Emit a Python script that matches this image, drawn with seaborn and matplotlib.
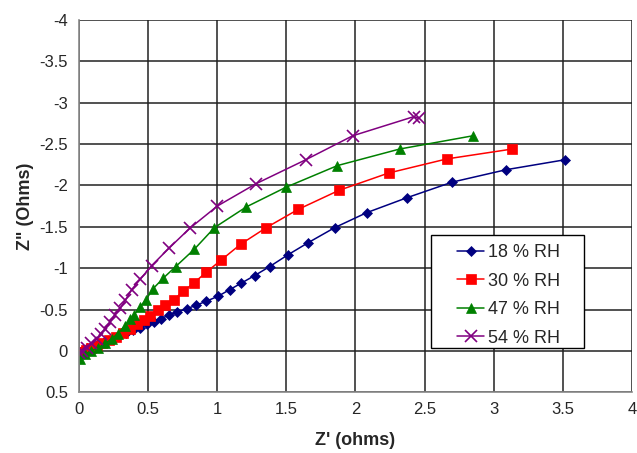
import matplotlib
matplotlib.use("Agg")
from matplotlib import pyplot as plt
from matplotlib.patches import Rectangle
from matplotlib.ticker import FuncFormatter, MultipleLocator
import seaborn as sns

# Z' (x) and Z'' (y), one pair of lists per humidity
zr_18 = [0.01, 0.03, 0.06, 0.10, 0.14, 0.19, 0.24, 0.29, 0.34, 0.39, 0.44, 0.49,
         0.54, 0.59, 0.65, 0.71, 0.78, 0.845, 0.92, 1.005, 1.09, 1.175, 1.27,
         1.38, 1.51, 1.66, 1.85, 2.08, 2.37, 2.70, 3.09, 3.515]
zi_18 = [0.01, -0.01, -0.03, -0.05, -0.08, -0.12, -0.15, -0.18, -0.22, -0.25, -0.28, -0.32,
         -0.35, -0.39, -0.43, -0.47, -0.51, -0.55, -0.60, -0.66, -0.74, -0.82, -0.91,
         -1.02, -1.16, -1.31, -1.49, -1.67, -1.85, -2.04, -2.19, -2.31]

zr_30 = [0.01, 0.02, 0.05, 0.09, 0.13, 0.17, 0.22, 0.27, 0.32, 0.37, 0.42, 0.47,
         0.515, 0.57, 0.62, 0.685, 0.755, 0.83, 0.92, 1.03, 1.17, 1.355, 1.585,
         1.88, 2.24, 2.66, 3.135]
zi_30 = [0.03, 0.01, -0.01, -0.03, -0.06, -0.09, -0.13, -0.17, -0.22, -0.27, -0.32, -0.37,
         -0.42, -0.49, -0.56, -0.62, -0.72, -0.82, -0.95, -1.10, -1.29, -1.49, -1.71,
         -1.94, -2.15, -2.32, -2.44]

zr_47 = [0.01, 0.04, 0.09, 0.14, 0.19, 0.24, 0.28, 0.33, 0.37, 0.40, 0.44, 0.485,
         0.535, 0.61, 0.70, 0.835, 0.98, 1.21, 1.50, 1.87, 2.32, 2.85]
zi_47 = [0.10, 0.04, 0.0, -0.04, -0.09, -0.15, -0.21, -0.30, -0.38, -0.44, -0.53, -0.62,
         -0.75, -0.88, -1.02, -1.23, -1.49, -1.74, -1.98, -2.24, -2.44, -2.60]

zr_54 = [0.00, 0.02, 0.055, 0.09, 0.13, 0.16, 0.19, 0.225, 0.26, 0.30, 0.335, 0.38,
         0.445, 0.525, 0.65, 0.80, 1.00, 1.28, 1.64, 1.98, 2.42, 2.46]
zi_54 = [0.02, 0.0, -0.04, -0.09, -0.15, -0.21, -0.27, -0.35, -0.44, -0.52, -0.61, -0.74,
         -0.87, -1.03, -1.24, -1.48, -1.75, -2.02, -2.31, -2.60, -2.83, -2.81]

labels = ["18 % RH", "30 % RH", "47 % RH", "54 % RH"]

sns.set_style("white")
plt.rcParams['font.family'] = ['Liberation Sans', 'DejaVu Sans']
plt.rcParams['axes.unicode_minus'] = False

fig = plt.figure(figsize=(6.37, 4.53), dpi=100)
ax = fig.add_axes([0.124, 0.134, 0.868, 0.822])

series = [
    (zr_18, zi_18, "#000080", "D", 5.5),
    (zr_30, zi_30, "#ff0000", "s", 6.5),
    (zr_47, zi_47, "#008000", "^", 7),
    (zr_54, zi_54, "#800080", "x", 8),
]
for (xs, ys, col, mk, ms), lab in zip(series, labels):
    sns.lineplot(x=xs, y=ys, sort=False, estimator=None, color=col, marker=mk,
                 markersize=ms, markeredgecolor=col, markeredgewidth=1.2 if mk == "x" else 0.5,
                 linewidth=1.1, label=lab, ax=ax)

ax.set_xlim(0, 4)
ax.set_ylim(0.5, -4)
ax.xaxis.set_major_locator(MultipleLocator(0.5))
ax.yaxis.set_major_locator(MultipleLocator(0.5))
fmt = FuncFormatter(lambda v, p: "%g" % v if abs(v) > 1e-9 else "0")
ax.xaxis.set_major_formatter(fmt)
ax.yaxis.set_major_formatter(fmt)
ax.grid(True, color="#222222", linewidth=1.1)
ax.set_axisbelow(True)

for side in ["top", "right"]:
    ax.spines[side].set_visible(False)
for side in ["left", "bottom"]:
    ax.spines[side].set_color("#888888")
    ax.spines[side].set_linewidth(1.2)

ax.tick_params(axis="y", direction="out", length=5, width=1, color="#888888",
               labelsize=12, pad=3)
ax.tick_params(axis="x", length=0, labelsize=12, pad=7)

ax.set_xlabel("Z' (ohms)", fontsize=13, fontweight="bold", labelpad=11)
ax.set_ylabel('Z" (Ohms)', fontsize=13, fontweight="bold", labelpad=4)

# Excel-style legend box: wide side padding, so draw the frame separately
box = Rectangle((0.6365, 0.118), 0.2765, 0.304, transform=ax.transAxes,
                facecolor="white", edgecolor="black", linewidth=1.0, zorder=4.8)
ax.add_patch(box)
leg = ax.legend(loc="upper left", bbox_to_anchor=(0.684, 0.398), fontsize=13,
                frameon=False, handlelength=1.5, borderpad=0,
                labelspacing=0.64, handletextpad=0.2, borderaxespad=0)

plt.savefig("out.png", dpi=100)
